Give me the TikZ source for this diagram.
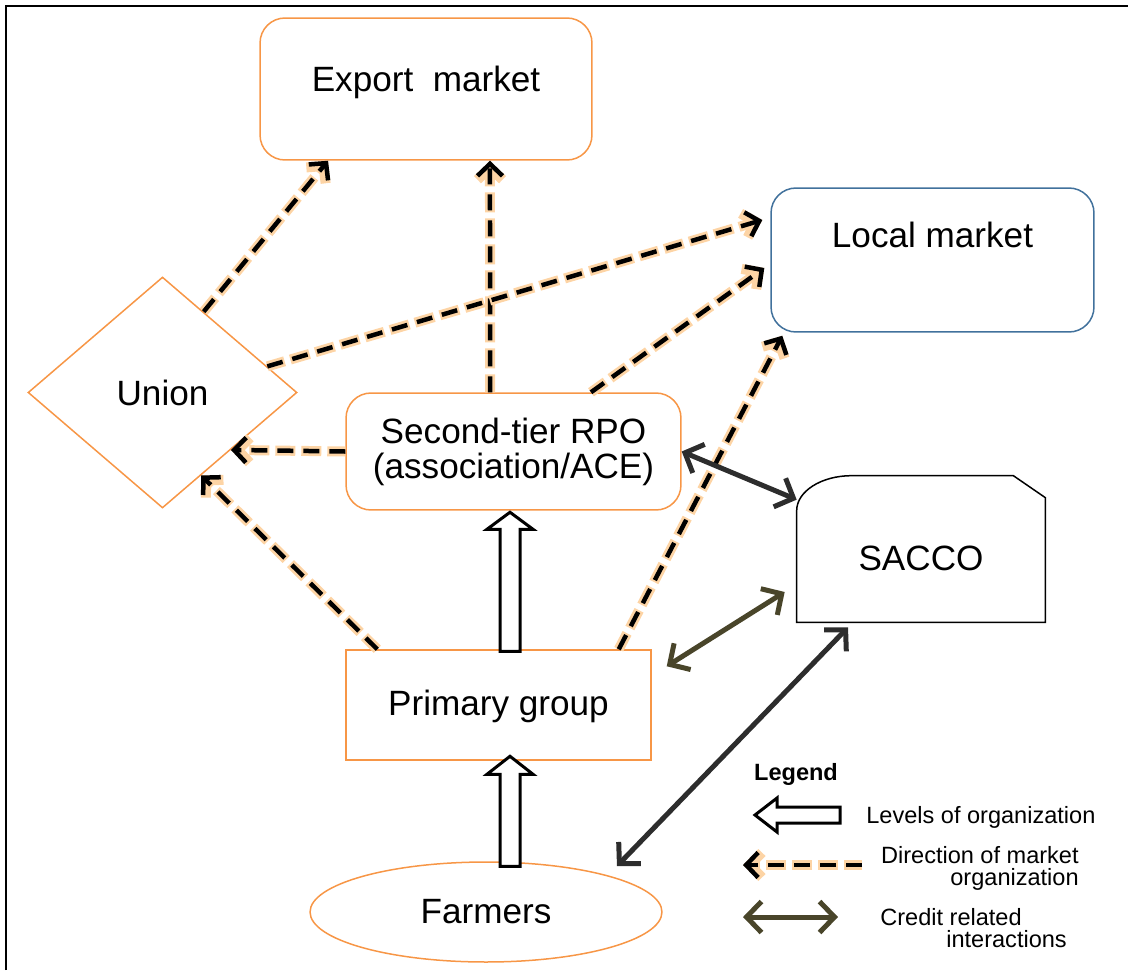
\documentclass[tikz,border=0pt]{standalone}
\usepackage{fontspec}
\setmainfont{Liberation Sans}
\usetikzlibrary{shapes.geometric,arrows.meta,calc}

\definecolor{boxorange}{RGB}{247,150,70}
\definecolor{boxblue}{RGB}{65,113,156}
\definecolor{glow}{RGB}{253,212,165}
\definecolor{creditolive}{RGB}{73,69,42}
\definecolor{darkline}{RGB}{45,45,45}

\begin{document}
\begin{tikzpicture}[x=0.02cm, y=-0.02cm,
	every node/.style={font=\fontsize{20}{20}\selectfont},
	box/.style={
		draw=boxorange,
		line width=0.03cm,
		align=center,
		inner sep=0pt
	},
	market/.style={line width=0.09cm, dash pattern=on 0.32cm off 0.2cm,
		-{Straight Barb[length=0.24cm,width=0.5cm]},
		preaction={draw=glow, line width=0.2cm, dash pattern=on 0.4cm off 0.12cm, dash phase=0.04cm}},
	twoway/.style={line width=0.1cm,
		{Straight Barb[length=0.3cm,width=0.62cm]}-{Straight Barb[length=0.3cm,width=0.62cm]}},
	level/.style={draw=black, line width=0.06cm, fill=white, line join=miter},
	legtext/.style={font=\fontsize{13.4}{12.5}\selectfont, inner sep=0pt}
	]
	\useasboundingbox (0,0) rectangle (1128,970);
	%Rahmen
	\draw[line width=0.06cm] (6,970) -- (6,6) -- (1128,6);
	
	\node[box, rounded corners=0.5cm, minimum width=6.64cm, minimum height=2.84cm, text depth=0.39cm] (export) at (426,89) {Export\ \ market};
	\node[box, draw=boxblue, rounded corners=0.5cm, minimum width=6.46cm, minimum height=2.88cm, text depth=1.02cm] (local) at (932.5,260) {Local market};
	\node[box, diamond, minimum width=5.38cm, minimum height=4.62cm] (union) at (162.5,392.5) {Union};
	\node[box, rounded corners=0.5cm, minimum width=6.7cm, minimum height=2.34cm] (sec) at (513.5,451.5) {Second-tier RPO\\(association/ACE)};
	\node[inner sep=0pt, minimum width=4.96cm, minimum height=2.92cm, text height=0.86cm] (sacco) at (921,549) {SACCO};
	\node[box, minimum width=6.1cm, minimum height=2.2cm, text depth=0.1cm] (prim) at (498.5,705) {Primary group};
	\node[box, ellipse, minimum width=7.04cm, minimum height=2cm] (farm) at (486,912) {Farmers};
	
	%SACCO Umriss
	\draw[line width=0.03cm] (sacco.south west) -- ([yshift=-0.7cm]sacco.north west)
	arc[start angle=180, end angle=90, x radius=1.1cm, y radius=0.7cm]
	-- ([xshift=-0.64cm]sacco.north east) -- ([yshift=-0.44cm]sacco.north east)
	-- (sacco.south east) -- cycle;
	
	%Markt
	\draw[market] (union.63) -- ([xshift=-1.96cm]export.south);
	\draw[market] ([xshift=-0.47cm]sec.north) -- ([xshift=1.28cm]export.south);
	\draw[market] (union.14) -- ([shift={(-0.16cm,0.8cm)}]local.west);
	\draw[market] ([xshift=1.55cm]sec.north) -- ([shift={(-0.12cm,-0.16cm)}]local.west);
	\draw[market] ([xshift=-0.66cm]prim.north east) -- ([shift={(0.24cm,-0.06cm)}]local.south west);
	\draw[market] (sec.west) -- (union.-40);
	\draw[market] ([xshift=0.64cm]prim.north west) -- (union.-65);
	
	%Kredit
	\draw[twoway, darkline] (sec.east) -- ([yshift=-0.48cm]sacco.north west);
	\draw[twoway, creditolive] ([shift={(0.3cm,-0.34cm)}]prim.north east) -- ([shift={(-0.24cm,-0.86cm)}]sacco.west);
	\draw[twoway, darkline] ([shift={(2.62cm,0.92cm)}]farm.center) -- ([shift={(-1.46cm,-0.1cm)}]sacco.south);
	
	%Ebenen
	\draw[level] ([shift={(0.03cm,-0.04cm)}]prim.north) -- ++(0,-122) -- ++(-13,0) -- ++(23,-17) -- ++(23,17) -- ++(-13,0) -- ++(0,122) -- cycle;
	\draw[level] ([shift={(0.28cm,-0.1cm)}]farm.north) -- ++(0,-92) -- ++(-13,0) -- ++(23,-18) -- ++(23,18) -- ++(-13,0) -- ++(0,92) -- cycle;
	
	%Legende
	\node[legtext] (legtitle) at (796,774) {\bfseries Legend};
	\coordinate (levtip) at (755,815);
	\draw[level] (levtip) -- ++(22,-17) -- ++(0,9) -- ++(63,0) -- ++(0,16) -- ++(-63,0) -- ++(0,9) -- cycle;
	\node[legtext, anchor=west] (levtext) at (866,817) {Levels of organization};
	
	\coordinate (dirstart) at (862,865);
	\coordinate (dirend) at (743,865);
	\draw[market] (dirstart) -- (dirend);
	\node[legtext, anchor=east, align=right] (dirtext) at (1079,868) {Direction of market\\organization};
	
	\coordinate (credleft) at (743,917);
	\coordinate (credright) at (838,917);
	\draw[twoway, creditolive] (credleft) -- (credright);
	\node[legtext, anchor=west, align=left] (credtext) at (880,928) {Credit related\\\hspace*{1.32cm}interactions};
\end{tikzpicture}
\end{document}
